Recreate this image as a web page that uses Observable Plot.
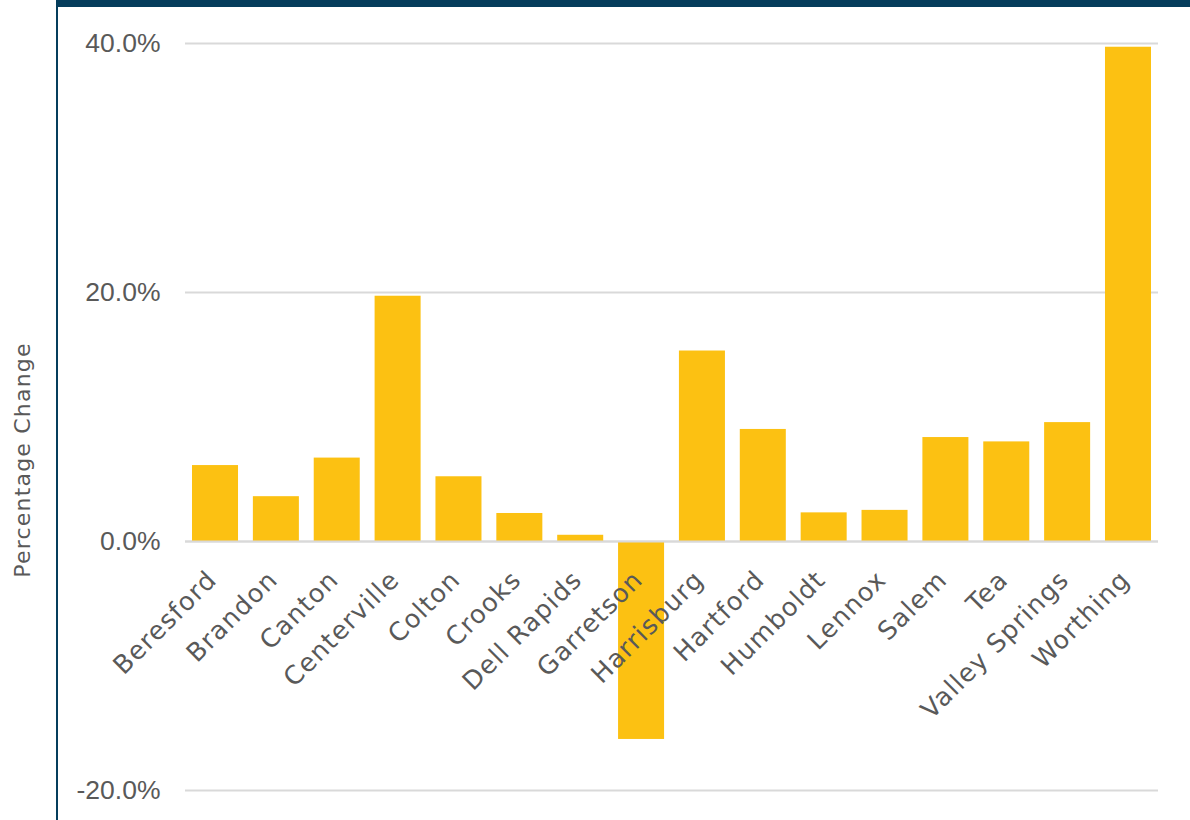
<!DOCTYPE html>
<html>
<head>
<meta charset="utf-8">
<script src="https://cdn.jsdelivr.net/npm/d3@7"></script>
<script src="https://cdn.jsdelivr.net/npm/@observablehq/plot@0.6"></script>
<style>
  html, body { margin: 0; padding: 0; background: #fff; }
  #wrap { position: relative; width: 1190px; height: 820px; overflow: hidden; }
  #topbar { position: absolute; left: 56px; top: 0; width: 1134px; height: 7px; background: #053D5C; }
  #leftline { position: absolute; left: 56px; top: 0; width: 2px; height: 820px; background: #053D5C; }
  #chart { position: absolute; left: 0; top: 0; }
  .lbl text { letter-spacing: 1.2px; }
</style>
</head>
<body>
<div id="wrap">
  <div id="chart"></div>
  <div id="topbar"></div>
  <div id="leftline"></div>
</div>
<script>
const cities = ["Beresford", "Brandon", "Canton", "Centerville", "Colton", "Crooks", "Dell Rapids", "Garretson", "Harrisburg", "Hartford", "Humboldt", "Lennox", "Salem", "Tea", "Valley Springs", "Worthing"];
const changes = [6.1, 3.6, 6.7, 19.7, 5.2, 2.25, 0.5, -15.9, 15.3, 9.0, 2.3, 2.5, 8.35, 8.0, 9.55, 39.7];
const yTicks = [-20, 0, 20, 40];
const yLabel = "Percentage Change";

const data = cities.map((c, i) => ({city: c, value: changes[i]}));

const labelFont = "'DejaVu Sans', 'Noto Sans', sans-serif";

const chart = Plot.plot({
  width: 1190,
  height: 820,
  marginLeft: 185,
  marginRight: 32,
  marginTop: 43,
  marginBottom: 30,
  style: {fontFamily: "'Liberation Sans', Arial, sans-serif", fontSize: "22px", background: "transparent"},
  x: {domain: cities, paddingInner: 0.244, paddingOuter: 0.115, round: false, axis: null},
  y: {domain: [-20, 40], ticks: yTicks, axis: null},
  marks: [
    Plot.ruleY(yTicks, {stroke: "#D9D9D9", strokeWidth: 2}),
    Plot.barY(data, {x: "city", y: "value", fill: "#FCC112"}),
    Plot.ruleY([0], {stroke: "#D9D9D9", strokeWidth: 2}),
    Plot.text(yTicks, {
      y: d => d,
      frameAnchor: "left",
      dx: -25,
      text: d => d.toFixed(1) + "%",
      textAnchor: "end",
      fontSize: 26.5,
      fontFamily: "'Liberation Sans Narrow', 'Liberation Sans', Arial, sans-serif",
      fill: "#595959"
    }),
    Plot.text(data, {
      x: "city",
      y: () => 0,
      text: "city",
      rotate: -45,
      textAnchor: "end",
      lineAnchor: "top",
      dx: -10,
      dy: 27,
      fontSize: 25.5,
      fontFamily: labelFont,
      fill: "#595959",
      className: "lbl"
    }),
    Plot.text([yLabel], {
      frameAnchor: "left",
      dx: -163,
      dy: 43,
      text: d => d,
      rotate: -90,
      textAnchor: "middle",
      fontSize: 22,
      fontFamily: labelFont,
      fill: "#595959",
      className: "lbl"
    })
  ]
});
document.getElementById("chart").appendChild(chart);
</script>
</body>
</html>
